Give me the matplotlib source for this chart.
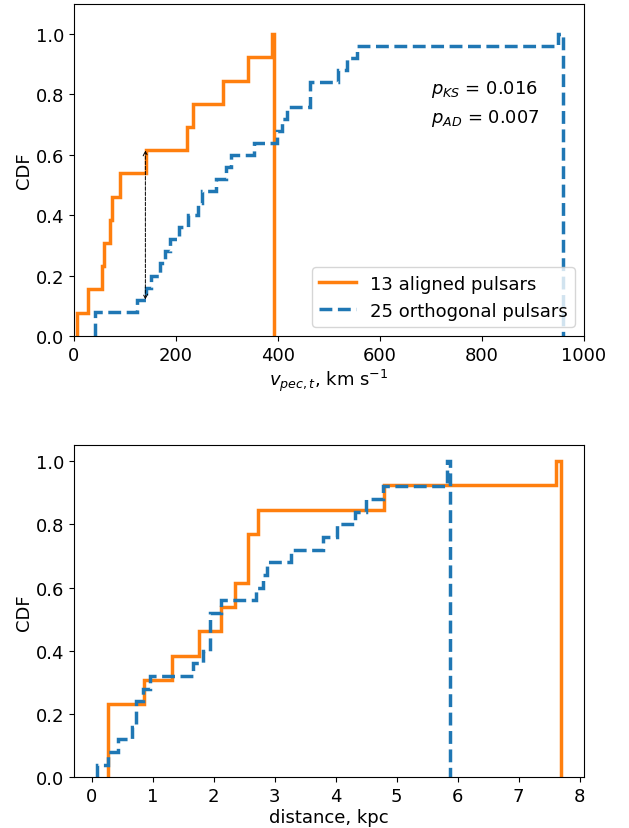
import matplotlib
matplotlib.use("Agg")
import matplotlib.pyplot as plt
from matplotlib.lines import Line2D

plt.rcParams['font.size'] = 13

# transverse peculiar velocities, km/s
v_aligned = [5, 32, 56, 63, 72, 78, 94, 142, 225, 235, 294, 343, 392]
v_orth = [41, 47, 131, 146, 155, 173, 186, 193, 212, 232, 245, 257, 288,
          302, 311, 354, 405, 413, 421, 466, 469, 523, 540, 559, 958]

# distances, kpc
d_aligned = [0.27, 0.29, 0.31, 0.89, 1.34, 1.78, 2.16, 2.38, 2.60, 2.61,
             2.75, 4.83, 7.69]
d_orth = [0.09, 0.28, 0.47, 0.72, 0.76, 0.77, 0.89, 0.97, 1.70, 1.88,
          1.95, 1.96, 1.97, 2.14, 2.73, 2.85, 2.89, 3.31, 3.82, 4.04,
          4.33, 4.51, 4.81, 5.85, 5.88]

p_ks = 0.016
p_ad = 0.007
ks_x = 140
ks_lo, ks_hi = 0.12, 0.615

c_al = '#ff7f0e'
c_or = '#1f77b4'
lw = 2.5

fig, (ax1, ax2) = plt.subplots(2, 1, figsize=(6.29, 8.29), dpi=100)
fig.subplots_adjust(left=0.1176, right=0.9285, bottom=0.0612, top=0.994, hspace=0.33)

# top panel: velocities
ax1.hist(v_aligned, bins=100, density=True, cumulative=True, histtype='step',
         color=c_al, lw=lw)
ax1.hist(v_orth, bins=100, density=True, cumulative=True, histtype='step',
         color=c_or, lw=lw, ls='--')
ax1.annotate('', xy=(ks_x, ks_hi), xytext=(ks_x, ks_lo),
             arrowprops=dict(arrowstyle='<->', ls='--', lw=0.7, color='k',
                             shrinkA=0, shrinkB=0, mutation_scale=8))
ax1.text(700, 0.82, r'$p_{KS}$ = %.3f' % p_ks, va='center')
ax1.text(700, 0.725, r'$p_{AD}$ = %.3f' % p_ad, va='center')
ax1.set_xlim(0, 1000)
ax1.set_ylim(0, 1.1)
ax1.set_xlabel(r'$v_{pec,t}$, km s$^{-1}$', labelpad=2)
ax1.set_ylabel('CDF', labelpad=2)
handles = [Line2D([], [], color=c_al, lw=lw),
           Line2D([], [], color=c_or, lw=lw, ls='--')]
ax1.legend(handles, ['13 aligned pulsars', '25 orthogonal pulsars'], loc='lower right')

# bottom panel: distances
ax2.hist(d_aligned, bins=100, density=True, cumulative=True, histtype='step',
         color=c_al, lw=lw)
ax2.hist(d_orth, bins=100, density=True, cumulative=True, histtype='step',
         color=c_or, lw=lw, ls='--')
ax2.set_xlabel('distance, kpc', labelpad=2)
ax2.set_ylabel('CDF', labelpad=2)

plt.savefig('out.png', dpi=100)
